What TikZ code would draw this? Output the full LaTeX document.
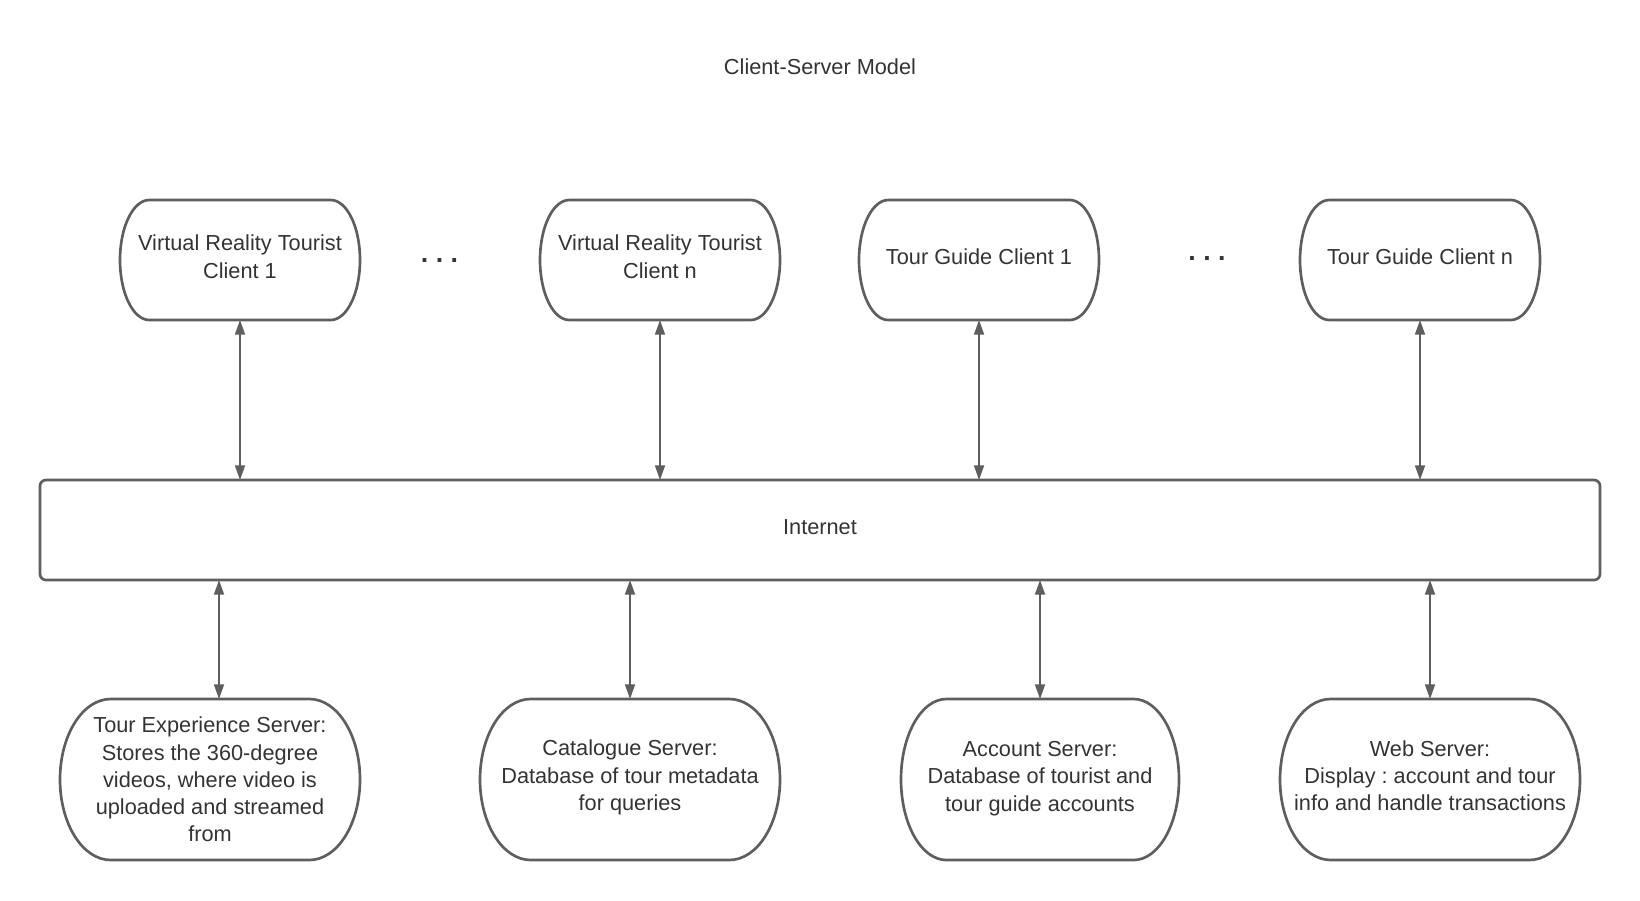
\documentclass[tikz,border=0pt]{standalone}
\usepackage{fontspec}
\setmainfont{Liberation Sans}
\frenchspacing
\usepackage{tikz}
\usetikzlibrary{arrows.meta,calc}
\usetikzlibrary{positioning}
\definecolor{edgegray}{HTML}{5E5E5E}
\definecolor{textgray}{HTML}{333333}
\tikzstyle{txt} = [text=textgray, font=\fontsize{16.3}{20.4}\selectfont, align=center, inner sep=0pt, outer sep=0pt]
\tikzstyle{client} = [txt, minimum width=180pt, minimum height=90pt, text depth=5pt]
\tikzstyle{server} = [txt, minimum width=225pt, minimum height=120.75pt]
\tikzstyle{net} = [txt, draw=edgegray, line width=2pt, rounded corners=4.5pt, minimum width=1170pt, minimum height=75pt, text depth=4pt]
\tikzstyle{outline} = [draw=edgegray, line width=2pt]
\tikzstyle{link} = [draw=edgegray, line width=1.3pt, {Triangle[length=11pt,width=7.5pt]}-{Triangle[length=11pt,width=7.5pt]}]
\tikzstyle{dots} = [text=textgray, font=\fontsize{20}{24}\selectfont\bfseries, inner sep=0pt, anchor=base]

\begin{document}
\begin{tikzpicture}[x=0.75pt, y=0.75pt]
\useasboundingbox (0,0) rectangle (1640,-900);

 \node (title) [txt] at (820,-67) {Client-Server Model};

 \node (vr1) [client] at (240,-260) {Virtual Reality Tourist\\Client 1};
 \node (vrn) [client] at (660,-260) {Virtual Reality Tourist\\Client n};
 \node (tg1) [client] at (979,-260) {Tour Guide Client 1};
 \node (tgn) [client] at (1420,-260) {Tour Guide Client n};
 \node (gapvr) [dots] at (439.5,-262) {. . .};
 \node (gaptg) [dots] at (1207,-260) {. . .};

 \node (net) [net] at (820,-530) {Internet};

 \node (tes) [server] at (210,-779.5) {Tour Experience Server:\\Stores the 360-degree\\videos, where video is\\uploaded and streamed\\from};
 \node (cat) [server, text depth=6.4pt] at (630,-779.5) {Catalogue Server:\\Database of tour metadata\\for queries};
 \node (acc) [server, minimum width=208.5pt, text depth=4.9pt] at (1040,-779.5) {Account Server:\\Database of tourist and\\tour guide accounts};
 \node (web) [server, text depth=6pt] at (1430,-779.5) {Web Server:\\Display : account and tour\\info and handle transactions};

 % rounded outlines
 \foreach \nd/\r in {vr1/22pt, vrn/22pt, tg1/22pt, tgn/22pt, tes/38pt, cat/38pt, acc/34pt, web/38pt}
  \draw[outline] let \p1=(\nd.north west), \p2=(\nd.south east) in
   (\x1+\r,\y1) -- (\x2-\r,\y1)
   arc[start angle=90, end angle=-90, x radius=\r, y radius={(\y1-\y2)/2}]
   -- (\x1+\r,\y2)
   arc[start angle=270, end angle=90, x radius=\r, y radius={(\y1-\y2)/2}] -- cycle;

 % clients
 \foreach \nd in {vr1, vrn, tg1, tgn}
  \draw[link] (\nd.south) -- (\nd.south |- net.north);

 % servers
 \draw[link] ([xshift=6.75pt]tes.north) -- ([xshift=6.75pt]tes.north |- net.south);
 \foreach \nd in {cat, acc, web}
  \draw[link] (\nd.north) -- (\nd.north |- net.south);
\end{tikzpicture}
\end{document}
